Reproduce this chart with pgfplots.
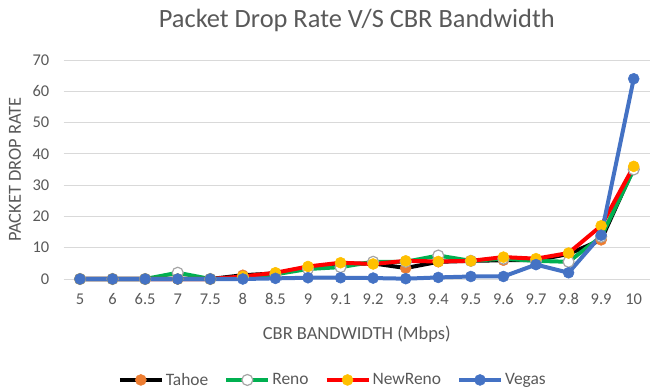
\documentclass[border=0pt]{standalone}
\usepackage{fontspec}
\setmainfont{Carlito}
\usepackage{pgfplots}
\pgfplotsset{compat=1.18}
\definecolor{txt}{HTML}{595959}
\definecolor{gridc}{HTML}{D9D9D9}
\definecolor{tahoeM}{HTML}{ED7D31}
\definecolor{renoL}{HTML}{00B050}
\definecolor{renoM}{HTML}{A5A5A5}
\definecolor{nrL}{HTML}{FF0000}
\definecolor{nrM}{HTML}{FFC000}
\definecolor{vegas}{HTML}{4472C4}
\begin{document}
\begin{tikzpicture}
\useasboundingbox (0,0) rectangle (654bp,389bp);
\begin{axis}[
  at={(63.7bp,110bp)}, anchor=south west,
  scale only axis, width=586.3bp, height=219bp,
  xmin=-0.5, xmax=17.5, ymin=0, ymax=70,
  xtick={0,...,17},
  xticklabels={5,6,6.5,7,7.5,8,8.5,9,9.1,9.2,9.3,9.4,9.5,9.6,9.7,9.8,9.9,10},
  ytick={0,10,...,70},
  axis line style={draw=none},
  major tick length=0pt,
  ymajorgrids, grid style={draw=gridc, line width=1pt},
  tick label style={font=\fontsize{16.5}{19}\selectfont, text=txt},
  xticklabel style={yshift=-11bp},
  yticklabel style={xshift=-11bp},
  /pgf/number format/assume math mode=true,
  clip=false,
  title={Packet Drop Rate V/S CBR Bandwidth},
  title style={at={(axis description cs:0.5,1.151)}, anchor=center, font=\fontsize{26.5}{30}\selectfont, text=txt},
  xlabel={CBR BANDWIDTH (Mbps)},
  xlabel style={at={(axis description cs:0.5,-0.252)}, anchor=center, font=\fontsize{18.5}{22}\selectfont, text=txt},
  ylabel={PACKET DROP RATE},
  ylabel style={at={(axis description cs:-0.083,0.5)}, anchor=center, font=\fontsize{18.5}{22}\selectfont, text=txt},
  legend columns=4,
  legend style={at={(axis description cs:0.459,-0.461)}, anchor=center, draw=none, fill=none,
    font=\fontsize{17.5}{20}\selectfont, text=txt, /tikz/every even column/.append style={column sep=14bp},
    /tikz/every odd column/.append style={column sep=0bp}},
  legend image code/.code={\draw[#1,mark repeat=2,mark phase=2] plot coordinates {(0bp,0bp) (21bp,0bp) (42bp,0bp)};},
  every axis plot/.append style={line width=4bp, mark size=5.5bp},
]
\addplot[black, mark=*, mark options={fill=tahoeM, draw=tahoeM, line width=0.5bp}] coordinates {
(0,0) (1,0) (2,0) (3,0) (4,0) (5,1.2) (6,1.8) (7,3.5) (8,4.8) (9,5) (10,3.5) (11,5.5) (12,5.8) (13,6) (14,6) (15,8) (16,12.5) (17,35.5)};
\addlegendentry{Tahoe}
\addplot[renoL, mark=*, mark options={fill=white, draw=renoM, line width=1.2bp}] coordinates {
(0,0) (1,0) (2,0) (3,2) (4,0) (5,0.5) (6,1.5) (7,3.2) (8,3.8) (9,5.5) (10,5.5) (11,7.5) (12,5.8) (13,6.5) (14,5.8) (15,5.5) (16,13.5) (17,35)};
\addlegendentry{Reno}
\addplot[nrL, mark=*, mark options={fill=nrM, draw=nrM, line width=0.5bp}] coordinates {
(0,0) (1,0) (2,0) (3,0) (4,0) (5,0.8) (6,2) (7,4) (8,5.2) (9,4.8) (10,5.8) (11,5.6) (12,5.8) (13,7) (14,6.5) (15,8.3) (16,17) (17,36)};
\addlegendentry{NewReno}
\addplot[vegas, mark=*, mark options={fill=vegas, draw=vegas, line width=0.5bp}] coordinates {
(0,0) (1,0) (2,0) (3,0) (4,0) (5,0) (6,0.2) (7,0.4) (8,0.4) (9,0.3) (10,0.1) (11,0.5) (12,0.8) (13,0.8) (14,4.6) (15,2) (16,14) (17,64)};
\addlegendentry{Vegas}
\end{axis}
\end{tikzpicture}
\end{document}
